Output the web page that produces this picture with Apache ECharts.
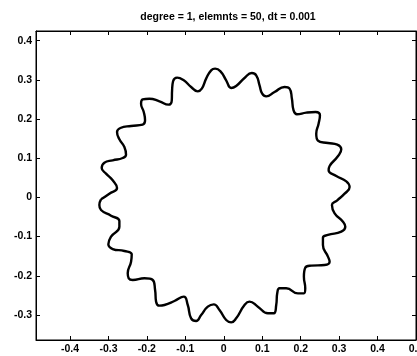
<!DOCTYPE html>
<html>
<head>
<meta charset="utf-8">
<script src="https://cdn.jsdelivr.net/npm/echarts@6/dist/echarts.min.js"></script>
<style>
html,body{margin:0;padding:0;background:#fff;}
#chart{width:417px;height:356px;}
</style>
</head>
<body>
<div id="chart"></div>
<script>
// Title text
const titleText = 'degree = 1, elemnts = 50, dt = 0.001';

// Tick values
const xTicks = [-0.4, -0.3, -0.2, -0.1, 0, 0.1, 0.2, 0.3, 0.4, 0.5];
const yTicks = [-0.3, -0.2, -0.1, 0, 0.1, 0.2, 0.3, 0.4];

// Curve points (x values), traced around the closed contour
const curveX = [
  -0.3194, -0.2977, -0.2777, -0.2890, -0.3063, -0.3176, -0.3107, -0.2890, -0.2629, -0.2543,
  -0.2586, -0.2716, -0.2777, -0.2690, -0.2412, -0.2109, -0.2048, -0.2082, -0.2152, -0.2109,
  -0.1935, -0.1674, -0.1440, -0.1353, -0.1345, -0.1319, -0.1214, -0.1041, -0.0850, -0.0676,
  -0.0572, -0.0459, -0.0329, -0.0225, -0.0086, 0.0062, 0.0192, 0.0322, 0.0539, 0.0730,
  0.0843, 0.0930, 0.0999, 0.1103, 0.1320, 0.1581, 0.1711, 0.1772, 0.1815, 0.1902,
  0.2145, 0.2388, 0.2501, 0.2466, 0.2405, 0.2449, 0.2709, 0.2952, 0.3056, 0.2952,
  0.2753, 0.2727, 0.2926, 0.3187, 0.3273, 0.3143, 0.2952, 0.2813, 0.2883, 0.3100,
  0.3161, 0.3056, 0.2709, 0.2579, 0.2579, 0.2709, 0.2753, 0.2622, 0.2275, 0.2119,
  0.2084, 0.2119, 0.2084, 0.1928, 0.1624, 0.1451, 0.1390, 0.1364, 0.1303, 0.1147,
  0.0886, 0.0669, 0.0539, 0.0322, 0.0192, 0.0062, -0.0112, -0.0260, -0.0416, -0.0589,
  -0.0720, -0.0850, -0.0937, -0.1041, -0.1284, -0.1544, -0.1674, -0.1761, -0.1787, -0.1848,
  -0.2065, -0.2369, -0.2473, -0.2499, -0.2412, -0.2395, -0.2586, -0.2890, -0.3003, -0.2933,
  -0.2716, -0.2716, -0.2933, -0.3194, -0.3237
];
// Matching y values
const curveY = [
  -0.0049, 0.0095, 0.0240, 0.0435, 0.0606, 0.0750, 0.0886, 0.0946, 0.1005, 0.1090,
  0.1286, 0.1482, 0.1669, 0.1771, 0.1822, 0.1856, 0.1966, 0.2179, 0.2392, 0.2502,
  0.2519, 0.2451, 0.2366, 0.2477, 0.2732, 0.2962, 0.3055, 0.2987, 0.2817, 0.2706,
  0.2775, 0.3030, 0.3242, 0.3285, 0.3217, 0.2987, 0.2792, 0.2843, 0.3047, 0.3174,
  0.3115, 0.2860, 0.2647, 0.2579, 0.2689, 0.2817, 0.2775, 0.2519, 0.2222, 0.2120,
  0.2162, 0.2179, 0.2094, 0.1881, 0.1626, 0.1448, 0.1388, 0.1346, 0.1226, 0.1031,
  0.0801, 0.0691, 0.0546, 0.0410, 0.0265, 0.0095, -0.0075, -0.0194, -0.0407, -0.0619,
  -0.0747, -0.0874, -0.0959, -0.1027, -0.1215, -0.1512, -0.1640, -0.1725, -0.1742, -0.1793,
  -0.2023, -0.2320, -0.2448, -0.2448, -0.2320, -0.2320, -0.2448, -0.2746, -0.2958, -0.2958,
  -0.2788, -0.2661, -0.2746, -0.3086, -0.3188, -0.3128, -0.2873, -0.2729, -0.2788, -0.3001,
  -0.3154, -0.3086, -0.2746, -0.2533, -0.2644, -0.2746, -0.2763, -0.2661, -0.2363, -0.2108,
  -0.2065, -0.2108, -0.2065, -0.1938, -0.1640, -0.1453, -0.1368, -0.1317, -0.1198, -0.1002,
  -0.0747, -0.0602, -0.0466, -0.0322, -0.0194
];

const curveData = curveX.map((x, i) => [x, curveY[i]]);
curveData.push(curveData[0]);

const FONT = "'Liberation Sans', Arial, Helvetica, sans-serif";
const fmt = v => String(Number(Number(v).toFixed(1)));

function xAxisDef(pos, showLabel) {
  return {
    type: 'value', position: pos, min: -0.4885, max: 0.5,
    axisLine: {show: true, onZero: false, lineStyle: {color: '#000', width: 1}},
    axisTick: {show: true, inside: true, length: 4, customValues: xTicks, lineStyle: {color: '#000', width: 1}},
    axisLabel: {show: showLabel, customValues: xTicks, formatter: fmt, color: '#000', fontWeight: 'bold',
      fontSize: 10.5, fontFamily: FONT, margin: 4, showMinLabel: true, showMaxLabel: true, hideOverlap: false},
    splitLine: {show: false}
  };
}
function yAxisDef(pos, showLabel) {
  return {
    type: 'value', position: pos, min: -0.3639, max: 0.4246,
    axisLine: {show: true, onZero: false, lineStyle: {color: '#000', width: 1}},
    axisTick: {show: true, inside: true, length: 4, customValues: yTicks, lineStyle: {color: '#000', width: 1}},
    axisLabel: {show: showLabel, customValues: yTicks, formatter: fmt, color: '#000', fontWeight: 'bold',
      fontSize: 10.5, fontFamily: FONT, margin: 4, showMinLabel: true, showMaxLabel: true, hideOverlap: false},
    splitLine: {show: false}
  };
}

const chart = echarts.init(document.getElementById('chart'), null, {renderer: 'canvas'});
chart.setOption({
  backgroundColor: '#fff',
  animation: false,
  title: {
    text: titleText, left: 228, top: 12, textAlign: 'center', padding: 0,
    textStyle: {color: '#000', fontWeight: 'bold', fontSize: 10.5, fontFamily: FONT}
  },
  grid: {left: 36, top: 31, width: 380, height: 309, containLabel: false, outerBoundsMode: 'none',
    show: true, borderColor: '#000', borderWidth: 1, backgroundColor: 'transparent'},
  xAxis: [xAxisDef('bottom', true), xAxisDef('top', false)],
  yAxis: [yAxisDef('left', true), yAxisDef('right', false)],
  series: [{
    type: 'line', xAxisIndex: 0, yAxisIndex: 0,
    data: curveData, showSymbol: false, symbol: 'none', smooth: 0.5,
    lineStyle: {color: '#000', width: 2.4}
  }]
});
</script>
</body>
</html>
